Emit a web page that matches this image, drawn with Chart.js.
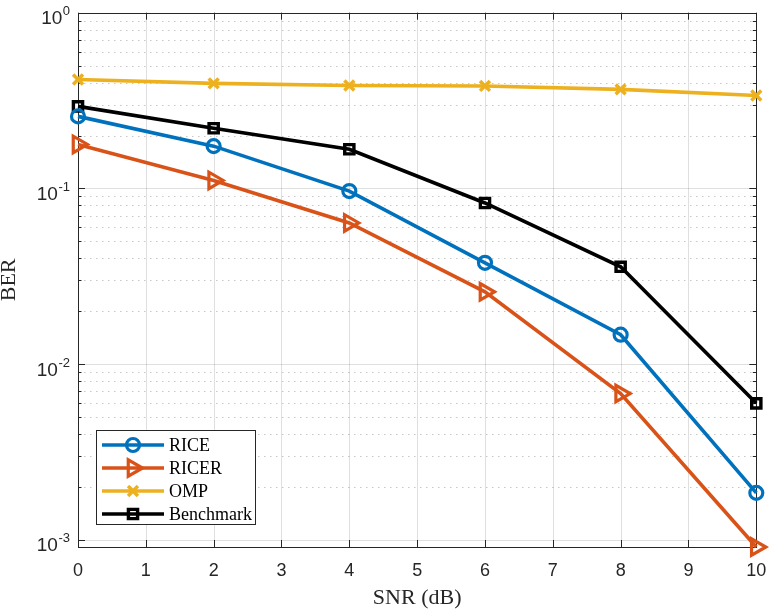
<!DOCTYPE html>
<html><head><meta charset="utf-8">
<script src="https://cdn.jsdelivr.net/npm/chart.js@4/dist/chart.umd.min.js"></script>
<style>html,body{margin:0;padding:0;background:#fff}#wrap{width:769px;height:611px}</style>
</head><body><div id="wrap"><canvas id="c" width="769" height="611"></canvas></div>
<script>
const snr = [0, 2, 4, 6, 8, 10];
const rice = [0.257, 0.174, 0.0966, 0.0377, 0.0147, 0.00185];
const ricer = [0.178, 0.111, 0.0636, 0.0258, 0.0068, 0.00091];
const omp = [0.417, 0.396, 0.385, 0.383, 0.366, 0.338];
const benchmark = [0.293, 0.220, 0.167, 0.0826, 0.0358, 0.00598];
const seriesNames = ['RICE', 'RICER', 'OMP', 'Benchmark'];
const xTickValues = [0,1,2,3,4,5,6,7,8,9,10];
const yDecades = [0.001, 0.01, 0.1, 1];
const yExponents = ['-3', '-2', '-1', '0'];
const yMin = 0.00091, yMax = 1;

const INK = '#262626';
const colors = ['#0072BD', '#D95319', '#EDB120', '#000000'];
const pts = (arr) => snr.map((x, i) => ({x: x, y: arr[i]}));

const markerStyles = [
  {pointStyle: 'circle', radius: 6.5, bw: 3.2},
  {pointStyle: 'triangle', radius: 9.5, bw: 3.2, rot: 90},
  {pointStyle: 'crossRot', radius: 7, bw: 3.5},
  {pointStyle: 'rect', radius: 6.5, bw: 3.4}
];

const datasets = [rice, ricer, omp, benchmark].map((arr, i) => ({
  label: seriesNames[i],
  data: pts(arr),
  borderColor: colors[i],
  backgroundColor: 'rgba(255,255,255,0)',
  borderWidth: 3.6,
  pointStyle: markerStyles[i].pointStyle,
  pointRadius: markerStyles[i].radius,
  pointRotation: markerStyles[i].rot || 0,
  pointBorderWidth: markerStyles[i].bw,
  pointBorderColor: colors[i],
  pointBackgroundColor: 'rgba(255,255,255,0)',
  pointHoverRadius: markerStyles[i].radius,
  tension: 0,
  clip: false,
  fill: false
}));

function drawMarker(ctx, style, x, y, color) {
  ctx.save();
  ctx.strokeStyle = color; ctx.lineWidth = style.bw; ctx.setLineDash([]);
  ctx.beginPath();
  const r = style.radius;
  if (style.pointStyle === 'circle') {
    ctx.arc(x, y, r, 0, Math.PI * 2);
  } else if (style.pointStyle === 'triangle') {
    const a = (style.rot || 0) * Math.PI / 180;
    for (let k = 0; k < 3; k++) {
      const t = a - Math.PI / 2 + k * 2 * Math.PI / 3;
      const px = x + r * Math.cos(t), py = y + r * Math.sin(t);
      if (k === 0) ctx.moveTo(px, py); else ctx.lineTo(px, py);
    }
    ctx.closePath();
  } else if (style.pointStyle === 'crossRot') {
    const d = r * Math.SQRT1_2;
    ctx.moveTo(x - d, y - d); ctx.lineTo(x + d, y + d);
    ctx.moveTo(x - d, y + d); ctx.lineTo(x + d, y - d);
  } else if (style.pointStyle === 'rect') {
    const s = r * Math.SQRT1_2;
    ctx.rect(x - s, y - s, 2 * s, 2 * s);
  }
  ctx.stroke();
  ctx.restore();
}

const framePlugin = {
  id: 'frame',
  beforeDatasetsDraw(chart) {
    const {ctx, chartArea: a, scales: {x, y}} = chart;
    ctx.save();
    ctx.lineWidth = 1;
    // minor y grid (dotted)
    ctx.strokeStyle = 'rgba(38,38,38,0.26)';
    ctx.setLineDash([1.5, 4.5]);
    for (const d of yDecades) {
      for (let m = 2; m <= 9; m++) {
        const v = m * d;
        if (v <= yMin || v >= yMax) continue;
        const py = Math.round(y.getPixelForValue(v)) + 0.5;
        ctx.beginPath(); ctx.moveTo(a.left, py); ctx.lineTo(a.right, py); ctx.stroke();
      }
    }
    // major grid
    ctx.setLineDash([]);
    ctx.strokeStyle = 'rgba(38,38,38,0.15)';
    for (const v of xTickValues) {
      if (v <= 0 || v >= 10) continue;
      const px = Math.round(x.getPixelForValue(v)) + 0.5;
      ctx.beginPath(); ctx.moveTo(px, a.top); ctx.lineTo(px, a.bottom); ctx.stroke();
    }
    for (const v of yDecades) {
      if (v <= yMin || v >= yMax) continue;
      const py = Math.round(y.getPixelForValue(v)) + 0.5;
      ctx.beginPath(); ctx.moveTo(a.left, py); ctx.lineTo(a.right, py); ctx.stroke();
    }
    // box
    ctx.strokeStyle = INK;
    ctx.lineWidth = 1;
    ctx.strokeRect(Math.round(a.left) + 0.5, Math.round(a.top) + 0.5, Math.round(a.right - a.left), Math.round(a.bottom - a.top));
    // x ticks
    for (const v of xTickValues) {
      const px = Math.round(x.getPixelForValue(v)) + 0.5;
      ctx.beginPath();
      ctx.moveTo(px, a.bottom); ctx.lineTo(px, a.bottom - 7);
      ctx.moveTo(px, a.top); ctx.lineTo(px, a.top + 7);
      ctx.stroke();
    }
    // y ticks
    for (const d of yDecades) {
      for (let m = 1; m <= 9; m++) {
        const v = m * d;
        if (v < yMin || v > yMax) continue;
        const py = Math.round(y.getPixelForValue(v)) + 0.5;
        const len = m === 1 ? 7 : 3.5;
        ctx.beginPath();
        ctx.moveTo(a.left, py); ctx.lineTo(a.left + len, py);
        ctx.moveTo(a.right, py); ctx.lineTo(a.right - len, py);
        ctx.stroke();
      }
    }
    ctx.restore();
  },
  afterDraw(chart) {
    const {ctx, chartArea: a, scales: {y}} = chart;
    ctx.save();
    ctx.fillStyle = INK;
    ctx.textBaseline = 'alphabetic';
    // y tick labels 10^n
    yDecades.forEach((v, i) => {
      const py = y.getPixelForValue(v);
      ctx.font = '13px "Liberation Sans", Arial, sans-serif';
      const ew = ctx.measureText(yExponents[i]).width;
      const right = 70;
      ctx.textAlign = 'left';
      ctx.fillText(yExponents[i], right - ew, py + 2.5);
      ctx.font = '19px "Liberation Sans", Arial, sans-serif';
      ctx.textAlign = 'right';
      ctx.fillText('10', right - ew - 0.5, py + 11.5);
    });
    // legend
    const L = {left: 96, top: 430, right: 255, bottom: 524};
    ctx.fillStyle = '#ffffff';
    ctx.fillRect(L.left, L.top, L.right - L.left, L.bottom - L.top);
    ctx.strokeStyle = INK; ctx.lineWidth = 1;
    ctx.strokeRect(L.left + 0.5, L.top + 0.5, L.right - L.left, L.bottom - L.top);
    const rowY = [445, 468, 491, 514];
    chart.data.datasets.forEach((ds, i) => {
      const yy = rowY[i];
      ctx.strokeStyle = ds.borderColor; ctx.lineWidth = 3.6;
      ctx.beginPath(); ctx.moveTo(102, yy); ctx.lineTo(164, yy); ctx.stroke();
      drawMarker(ctx, markerStyles[i], 133, yy, ds.borderColor);
      ctx.fillStyle = '#000';
      ctx.font = '18px "Liberation Serif", "Times New Roman", serif';
      ctx.textAlign = 'left'; ctx.textBaseline = 'middle';
      ctx.fillText(ds.label, 169, yy + 1);
    });
    ctx.restore();
  }
};

new Chart(document.getElementById('c'), {
  type: 'line',
  data: {datasets: datasets},
  options: {
    responsive: false,
    devicePixelRatio: 1,
    animation: false,
    layout: {padding: {top: 11, right: 12, left: 0, bottom: 0}},
    plugins: {legend: {display: false}, tooltip: {enabled: false}},
    scales: {
      x: {
        type: 'linear', min: 0, max: 10,
        grid: {display: false, drawTicks: false},
        border: {display: false},
        afterBuildTicks: (s) => { s.ticks = xTickValues.map(v => ({value: v})); },
        ticks: {color: INK, font: {family: '"Liberation Sans", Arial, sans-serif', size: 18}, padding: 13, maxRotation: 0},
        title: {display: true, text: 'SNR (dB)', color: INK, font: {family: '"Liberation Serif", "Times New Roman", serif', size: 22}, padding: {top: 0, bottom: 0}},
        afterFit: (s) => { s.height = 64; s.paddingLeft = 0; s.paddingRight = 0; }
      },
      y: {
        type: 'logarithmic', min: yMin, max: yMax,
        grid: {display: false, drawTicks: false},
        border: {display: false},
        afterBuildTicks: (s) => { s.ticks = yDecades.map(v => ({value: v})); },
        ticks: {callback: () => '', padding: 0},
        title: {display: true, text: 'BER', color: INK, font: {family: '"Liberation Serif", "Times New Roman", serif', size: 22, lineHeight: 0.8}, padding: {top: 0, bottom: 0}},
        afterFit: (s) => { s.width = 78; s.paddingTop = 0; s.paddingBottom = 0; }
      }
    }
  },
  plugins: [framePlugin]
});
</script>
</body></html>
